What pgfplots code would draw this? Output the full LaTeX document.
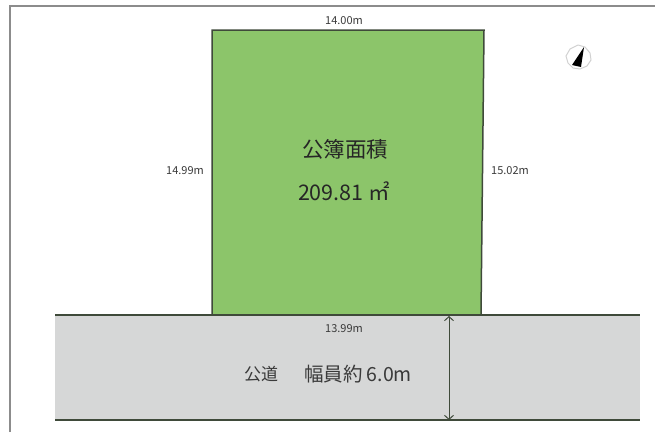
\documentclass[border=0pt]{standalone}
\usepackage{fontspec}
\setmainfont{Noto Sans CJK JP}
\usepackage{pgfplots}
\pgfplotsset{compat=1.18}
\usetikzlibrary{arrows.meta}
\definecolor{lot}{HTML}{8CC56A}
\definecolor{road}{HTML}{D6D7D7}
\definecolor{frame}{HTML}{8C8C8C}
\definecolor{txt}{HTML}{3A3A3A}
\definecolor{edge}{HTML}{3F4A3A}
\begin{document}
\begin{tikzpicture}
\begin{axis}[
  scale only axis, width=655pt, height=432pt,
  xmin=0, xmax=655, ymin=0, ymax=432, y dir=reverse,
  axis line style={draw=none}, ticks=none, clip=true,
]
% outer frame, open on the right and at the bottom
\addplot[frame, line width=1.5pt] coordinates {(10,432) (10,6) (655,6)};
% road
\addplot[fill=road, draw=none] coordinates {(55,315) (640,315) (640,420) (55,420)} --cycle;
% lot
\addplot[fill=lot, draw=none] coordinates {(212,30) (484,30) (481,315) (212,315)} --cycle;
\addplot[edge, line width=1.5pt] coordinates {(212,315) (212,30) (484,30) (481,315)};
\addplot[edge, line width=1.3pt] coordinates {(55,315) (640,315)};
\addplot[edge, line width=1.3pt] coordinates {(55,420) (640,420)};
% road width
\addplot[edge, line width=1pt, {Straight Barb[length=4pt,width=9pt]}-{Straight Barb[length=4pt,width=9pt]}] coordinates {(449,316) (449,420)};
% north mark
\addplot[black!18, line width=1pt] coordinates {(578,45) (585,47) (590,53) (591,60) (587,66) (580,69) (573,68) (568,63) (566,56) (570,49) (578,45)};
\addplot[fill=black, draw=none] coordinates {(584,47) (572,65) (581,67)} --cycle;
% labels
\node[font=\fontsize{11}{11}\selectfont, text=txt] at (axis cs:344,21) {14.00m};
\node[font=\fontsize{11}{11}\selectfont, text=txt] at (axis cs:185,171) {14.99m};
\node[font=\fontsize{11}{11}\selectfont, text=txt] at (axis cs:510,171) {15.02m};
\node[font=\fontsize{11}{11}\selectfont, text=txt] at (axis cs:344,329) {13.99m};
\node[font=\fontsize{21.5}{21.5}\selectfont, text=black!85] at (axis cs:345,149) {公簿面積};
\node[font=\fontsize{21.5}{21.5}\selectfont, text=black!85] at (axis cs:344,191) {209.81 ㎡};
\node[font=\fontsize{17}{17}\selectfont, text=txt] at (axis cs:261,374) {公道};
\node[font=\fontsize{19.5}{19.5}\selectfont, text=txt] at (axis cs:358,374) {幅員約 6.0m};
\end{axis}
\end{tikzpicture}
\end{document}
